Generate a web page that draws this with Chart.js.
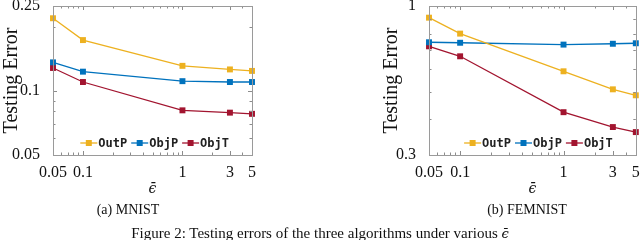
<!DOCTYPE html>
<html>
<head>
<meta charset="utf-8">
<script src="https://cdn.jsdelivr.net/npm/chart.js@4"></script>
<style>
    body { margin: 0; background: #fff; }
    #wrap { position: relative; width: 640px; height: 240px; overflow: hidden; }
    canvas { position: absolute; top: 0; }
    .cap { position: absolute; font-family: 'Liberation Serif', serif; color: #111; white-space: nowrap; transform: translateX(-50%); }
    .eps { font-family: 'DejaVu Serif', serif; font-style: italic; font-size: 13px; }
</style>
</head>
<body>
<div id="wrap">
    <canvas id="mnist-chart" width="320" height="240" style="left:0"></canvas>
    <canvas id="femnist-chart" width="320" height="240" style="left:320px"></canvas>
    <div class="cap" style="left:128px; top:202px; font-size:14px">(a) MNIST</div>
    <div class="cap" style="left:527px; top:202px; font-size:14px">(b) FEMNIST</div>
    <div class="cap" style="left:320px; top:225px; font-size:15px">Figure 2: Testing errors of the three algorithms under various <span class="eps">ϵ̄</span></div>
</div>
<script>
// x values (epsilon bar)
const epsValues = [0.05, 0.1, 1, 3, 5];
const epsLabels = ['0.05', '0.1', '1', '3', '5'];
const epsMinor = [0.06, 0.07, 0.08, 0.09, 0.2, 0.3, 0.4, 0.5, 0.6, 0.7, 0.8, 0.9, 2, 4];

const seriesNames = ['OutP', 'ObjP', 'ObjT'];
const seriesColors = ['#EDB120', '#0072BD', '#A2142F'];

// MNIST testing error
const mnistOutP = [0.219, 0.173, 0.131, 0.126, 0.124];
const mnistObjP = [0.136, 0.123, 0.111, 0.110, 0.110];
const mnistObjT = [0.128, 0.110, 0.081, 0.079, 0.078];
const mnistTicks = [0.05, 0.1, 0.25];
const mnistMinor = [0.06, 0.07, 0.08, 0.09, 0.2];

// FEMNIST testing error
const femnistOutP = [0.91, 0.80, 0.59, 0.51, 0.486];
const femnistObjP = [0.746, 0.743, 0.732, 0.737, 0.740];
const femnistObjT = [0.722, 0.666, 0.424, 0.376, 0.361];
const femnistTicks = [0.3, 1];
const femnistMinor = [0.4, 0.5, 0.6, 0.7, 0.8, 0.9];

Chart.defaults.font.family = "'Liberation Serif', serif";
Chart.defaults.color = '#111';

// box around the plot with inward tick marks on all four sides
const boxPlugin = {
    id: 'box',
    afterDatasetsDraw(chart) {
        const { ctx, chartArea: a, scales } = chart;
        ctx.save();
        ctx.strokeStyle = '#8c8c8c';
        ctx.lineWidth = 1;
        ctx.beginPath();
        scales.x.ticks.forEach(t => {
            const px = Math.round(scales.x.getPixelForValue(t.value)) + 0.5;
            const len = t.major ? 4 : 2.5;
            ctx.moveTo(px, a.bottom); ctx.lineTo(px, a.bottom - len);
            ctx.moveTo(px, a.top); ctx.lineTo(px, a.top + len);
        });
        scales.y.ticks.forEach(t => {
            const py = Math.round(scales.y.getPixelForValue(t.value)) + 0.5;
            const len = t.major ? 4 : 2.5;
            ctx.moveTo(a.left, py); ctx.lineTo(a.left + len, py);
            ctx.moveTo(a.right, py); ctx.lineTo(a.right - len, py);
        });
        ctx.stroke();
        ctx.strokeStyle = '#9a9a9a';
        ctx.strokeRect(Math.round(a.left) + 0.5, Math.round(a.top) + 0.5,
            Math.round(a.right - a.left), Math.round(a.bottom - a.top));
        ctx.restore();
    }
};

// legend drawn inside the plot area, bottom right
const innerLegend = {
    id: 'innerLegend',
    afterDatasetsDraw(chart) {
        const { ctx, chartArea: a } = chart;
        const sets = chart.data.datasets;
        ctx.save();
        ctx.font = "bold 12px 'DejaVu Sans Mono', monospace";
        ctx.textBaseline = 'middle';
        const lineLen = 17, gap = 1, itemGap = 4;
        const widths = sets.map(d => ctx.measureText(d.label).width);
        const total = widths.reduce((s, w) => s + lineLen + gap + w, 0) + itemGap * (sets.length - 1);
        let x = a.right - 23 - total;
        const y = a.bottom - 12;
        sets.forEach((d, i) => {
            ctx.strokeStyle = d.borderColor;
            ctx.lineWidth = 1.3;
            ctx.beginPath();
            ctx.moveTo(x, y); ctx.lineTo(x + lineLen, y);
            ctx.stroke();
            ctx.fillStyle = d.borderColor;
            ctx.fillRect(x + lineLen / 2 - 3, y - 3, 6, 6);
            ctx.fillStyle = '#222';
            ctx.fillText(d.label, x + lineLen + gap, y + 1);
            x += lineLen + gap + widths[i] + itemGap;
        });
        ctx.restore();
    }
};

function makeDatasets(values) {
    return values.map((vals, i) => ({
        label: seriesNames[i],
        data: epsValues.map((e, j) => ({ x: e, y: vals[j] })),
        borderColor: seriesColors[i],
        backgroundColor: seriesColors[i],
        borderWidth: 1.3,
        pointStyle: 'rect',
        pointRadius: 4.2,
        pointBorderWidth: 0,
        clip: false
    }));
}

function makeChart(canvasId, values, yMin, yMax, yTicks, yMinor, yAxisWidth, padLeft, padRight) {
    const ctx = document.getElementById(canvasId).getContext('2d');
    return new Chart(ctx, {
        type: 'line',
        data: { datasets: makeDatasets(values) },
        options: {
            responsive: false,
            animation: false,
            layout: { padding: { top: 6, right: padRight, left: padLeft, bottom: 40 } },
            plugins: { legend: { display: false }, tooltip: { enabled: false } },
            scales: {
                x: {
                    type: 'logarithmic',
                    min: epsValues[0],
                    max: epsValues[epsValues.length - 1],
                    grid: { display: false },
                    border: { display: false },
                    afterBuildTicks: s => {
                        s.ticks = epsValues.map(v => ({ value: v, major: true }))
                            .concat(epsMinor.map(v => ({ value: v, major: false })));
                    },
                    ticks: {
                        autoSkip: false,
                        maxRotation: 0,
                        padding: 0,
                        font: { size: 16 },
                        callback: v => {
                            const i = epsValues.indexOf(v);
                            return i >= 0 ? epsLabels[i] : '';
                        }
                    },
                    title: {
                        display: true,
                        text: 'ϵ̄',
                        font: { family: "'DejaVu Serif', serif", size: 14, style: 'italic' },
                        padding: { top: 0, bottom: 2 }
                    },
                    afterFit: s => {
                        s.height = 45;
                        s.paddingLeft = 0;
                        s.paddingRight = 0;
                    }
                },
                y: {
                    type: 'logarithmic',
                    min: yMin,
                    max: yMax,
                    grid: { display: false },
                    border: { display: false },
                    afterBuildTicks: s => {
                        s.ticks = yTicks.map(v => ({ value: v, major: true }))
                            .concat(yMinor.map(v => ({ value: v, major: false })));
                    },
                    ticks: {
                        autoSkip: false,
                        padding: 5,
                        font: { size: 16 },
                        callback: v => (yTicks.includes(v) ? String(v) : '')
                    },
                    title: {
                        display: true,
                        text: 'Testing Error',
                        font: { size: 20 },
                        padding: { top: 0, bottom: 0 }
                    },
                    afterFit: s => {
                        s.width = yAxisWidth;
                        s.paddingTop = 0;
                        s.paddingBottom = 0;
                    }
                }
            }
        },
        plugins: [boxPlugin, innerLegend]
    });
}

makeChart('mnist-chart', [mnistOutP, mnistObjP, mnistObjT], 0.05, 0.25, mnistTicks, mnistMinor, 53, 0, 68);
makeChart('femnist-chart', [femnistOutP, femnistObjP, femnistObjT], 0.3, 1, femnistTicks, femnistMinor, 49, 60, 4);
</script>
</body>
</html>
